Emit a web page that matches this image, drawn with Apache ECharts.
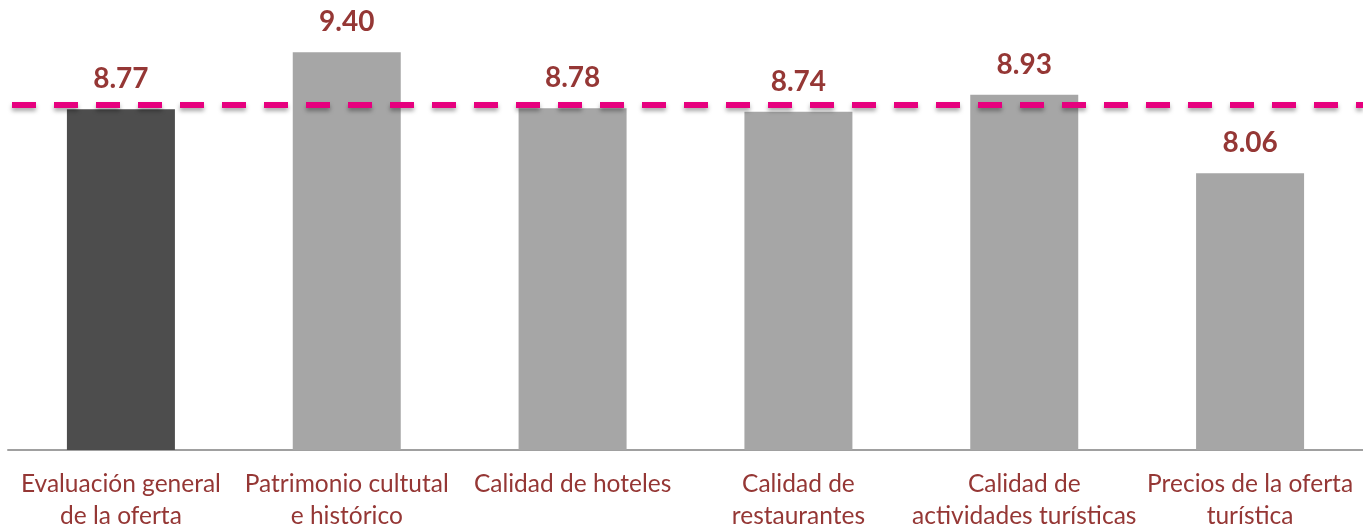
<!DOCTYPE html>
<html>
<head>
<meta charset="utf-8">
<script src="https://cdn.jsdelivr.net/npm/echarts@6/dist/echarts.min.js"></script>
<style>
  html, body { margin: 0; padding: 0; background: #fff; }
  #chart { width: 1363px; height: 526px; }
</style>
</head>
<body>
<div id="chart"></div>
<script>
// Evaluación de la oferta turística
const categories = [
  'Evaluación general\nde la oferta',
  'Patrimonio cultutal\ne histórico',
  'Calidad de hoteles',
  'Calidad de\nrestaurantes',
  'Calidad de\nactividades turísticas',
  'Precios de la oferta\nturística'
];
const scores = [8.77, 9.40, 8.78, 8.74, 8.93, 8.06];
const referenceLevel = 8.82;

const textColor = '#953735';
const fontFamily = 'Lato, "Open Sans", sans-serif';

const chart = echarts.init(document.getElementById('chart'), null, { renderer: 'canvas' });
chart.setOption({
  animation: false,
  grid: { left: 8, right: 0, top: 7, bottom: 76, outerBoundsMode: 'none', containLabel: false },
  xAxis: {
    type: 'category',
    data: categories,
    axisLine: { lineStyle: { color: '#a0a0a0', width: 2 } },
    axisTick: { show: false },
    axisLabel: {
      interval: 0,
      margin: 18,
      color: textColor,
      fontFamily: fontFamily,
      fontSize: 24.5,
      lineHeight: 32
    }
  },
  yAxis: {
    type: 'value',
    min: 5,
    max: 9.9,
    show: false,
    splitLine: { show: false }
  },
  series: [{
    type: 'bar',
    barWidth: 108,
    data: scores.map((v, i) => ({
      value: v,
      itemStyle: { color: i === 0 ? '#4d4d4d' : '#a6a6a6' }
    })),
    label: {
      show: true,
      position: 'top',
      distance: 16,
      color: textColor,
      fontFamily: fontFamily,
      fontWeight: 'bold',
      fontSize: 28,
      formatter: p => p.value.toFixed(2)
    },
    markLine: {
      silent: true,
      symbol: ['none', 'none'],
      label: { show: false },
      lineStyle: {
        color: '#e6007e',
        width: 6,
        type: [24, 18],
        dashOffset: -4,
        shadowColor: 'rgba(0,0,0,0.35)',
        shadowBlur: 4,
        shadowOffsetY: 3
      },
      data: [{ yAxis: referenceLevel }]
    }
  }]
});
</script>
</body>
</html>
